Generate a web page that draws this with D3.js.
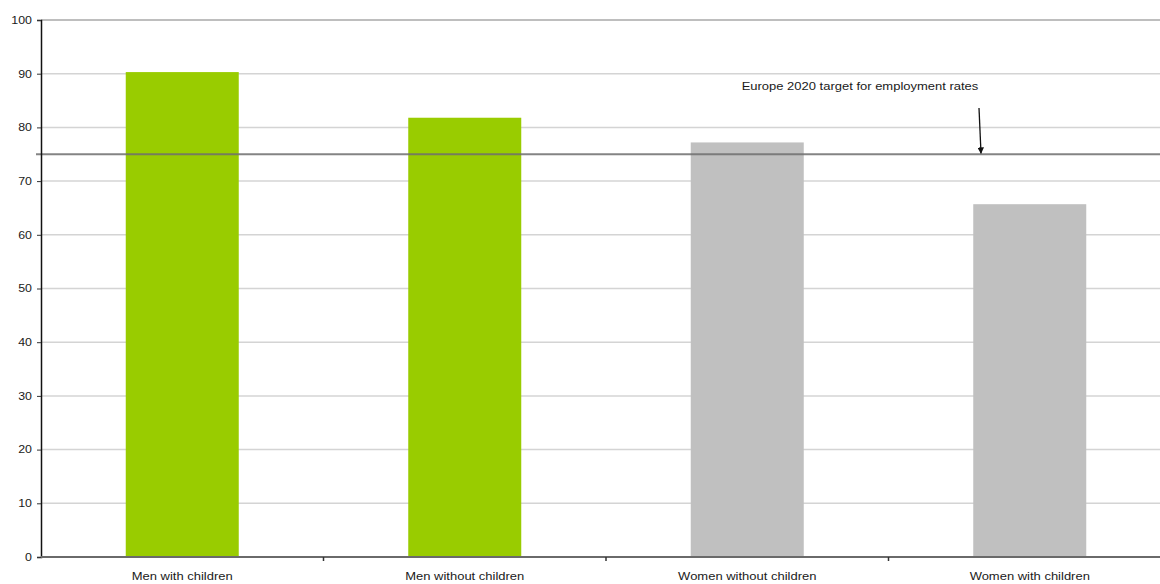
<!DOCTYPE html>
<html>
<head>
<meta charset="utf-8">
<script src="https://cdn.jsdelivr.net/npm/d3@7"></script>
<style>
  html, body { margin: 0; padding: 0; background: #fff; }
  svg { display: block; }
  text { font-family: "Liberation Sans", Arial, sans-serif; fill: #1a1a1a; }
</style>
</head>
<body>
<svg id="chart" width="1160" height="584"></svg>
<script>
// Employment rates by sex and parenthood (%)
const categories = ["Men with children", "Men without children", "Women without children", "Women with children"];
const rates = [90.3, 81.8, 77.2, 65.7];
const barColors = ["#99cc00", "#99cc00", "#c0c0c0", "#c0c0c0"];
const yTicks = [0, 10, 20, 30, 40, 50, 60, 70, 80, 90, 100];
const targetRate = 75;
const targetLabel = "Europe 2020 target for employment rates";

const svg = d3.select("#chart");
const plotLeft = 41, plotRight = 1171, plotTop = 20, plotBottom = 557;
const textStretch = 1.18; // labels are set slightly wide

const x = d3.scaleBand().domain(categories).range([plotLeft, plotRight]).paddingInner(0.6).paddingOuter(0.3);
const y = d3.scaleLinear().domain([0, 100]).range([plotBottom, plotTop]);

function widen(sel) {
  sel.each(function () {
    const w = this.getComputedTextLength();
    d3.select(this).attr("textLength", w * textStretch).attr("lengthAdjust", "spacingAndGlyphs");
  });
}

// horizontal gridlines
svg.append("g").selectAll("line")
  .data(yTicks.filter(d => d > 0))
  .join("line")
  .attr("x1", plotLeft).attr("x2", 1160)
  .attr("y1", d => y(d)).attr("y2", d => y(d))
  .attr("stroke", d => d === 100 ? "#a8a8a8" : "#d4d4d4")
  .attr("stroke-width", 1.5);

// bars
svg.append("g").selectAll("rect")
  .data(categories)
  .join("rect")
  .attr("x", d => x(d))
  .attr("width", x.bandwidth())
  .attr("y", (d, i) => y(rates[i]))
  .attr("height", (d, i) => y(0) - y(rates[i]))
  .attr("fill", (d, i) => barColors[i]);

// target line
svg.append("line")
  .attr("x1", 36).attr("x2", 1160)
  .attr("y1", y(targetRate)).attr("y2", y(targetRate))
  .attr("stroke", "#6e6e6e").attr("stroke-opacity", 0.85)
  .attr("stroke-width", 2);

// y axis
const yAxis = svg.append("g")
  .attr("transform", `translate(${plotLeft},0)`)
  .call(d3.axisLeft(y).tickValues(yTicks).tickSize(4).tickPadding(5));
yAxis.select(".domain").attr("stroke", "#111").attr("stroke-width", 1.5);
yAxis.selectAll(".tick line").attr("stroke", "#333");
yAxis.selectAll("text").style("font-size", "10.5px").attr("fill", "#1a1a1a").call(widen);

// x axis
const boundaries = [plotLeft, ...categories.map(c => x(c) - x.step() * x.paddingInner() / 2).slice(1), plotRight];
const xAxis = svg.append("g").attr("transform", `translate(0,${plotBottom})`);
xAxis.append("line")
  .attr("x1", plotLeft).attr("x2", 1160)
  .attr("stroke", "#6a6a6a").attr("stroke-width", 2);
xAxis.selectAll(".sep")
  .data(boundaries.slice(1, -1))
  .join("line")
  .attr("class", "sep")
  .attr("x1", d => d).attr("x2", d => d)
  .attr("y1", 0).attr("y2", 4)
  .attr("stroke", "#333").attr("stroke-width", 1.5);
xAxis.selectAll("text")
  .data(categories)
  .join("text")
  .attr("x", d => x(d) + x.bandwidth() / 2)
  .attr("y", 23)
  .attr("text-anchor", "middle")
  .style("font-size", "11px")
  .text(d => d)
  .call(widen);

// annotation with arrow
svg.append("defs").append("marker")
  .attr("id", "arrowhead")
  .attr("viewBox", "0 0 10 10")
  .attr("refX", 9).attr("refY", 5)
  .attr("markerWidth", 5).attr("markerHeight", 5)
  .attr("orient", "auto")
  .append("path").attr("d", "M0,0 L10,5 L0,10 z").attr("fill", "#111");

svg.append("text")
  .attr("x", 860).attr("y", 90)
  .attr("text-anchor", "middle")
  .style("font-size", "11px")
  .text(targetLabel)
  .call(widen);

svg.append("line")
  .attr("x1", 979).attr("y1", 108)
  .attr("x2", 981).attr("y2", y(targetRate) - 1)
  .attr("stroke", "#111").attr("stroke-width", 1.3)
  .attr("marker-end", "url(#arrowhead)");
</script>
</body>
</html>
